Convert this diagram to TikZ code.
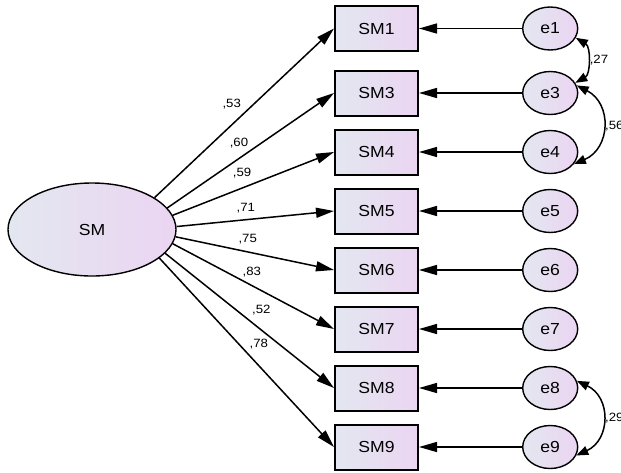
\documentclass[tikz,border=0pt]{standalone}
\usepackage{fontspec}
\setmainfont{Liberation Sans}[FakeStretch=1.1]
\usetikzlibrary{arrows.meta,positioning,shapes.geometric}
\definecolor{fillleft}{HTML}{E3E7F0}
\definecolor{fillright}{HTML}{EBD5F2}
\tikzstyle{latent}=[
	ellipse,
	draw,
	line width=1.4pt,
	left color=fillleft,
	right color=fillright,
	minimum width=168pt,
	minimum height=93pt,
	font=\fontsize{16}{18}\selectfont
]
\tikzstyle{indicator}=[
	rectangle,
	draw,
	line width=2pt,
	left color=fillleft,
	right color=fillright,
	minimum width=83pt,
	minimum height=45pt,
	font=\fontsize{16}{18}\selectfont,
	node distance=12pt and 103pt
]
\tikzstyle{error}=[
	ellipse,
	draw,
	line width=1.4pt,
	left color=fillleft,
	right color=fillright,
	minimum width=55pt,
	minimum height=43pt,
	inner sep=0pt,
	font=\fontsize{16}{18}\selectfont,
	node distance=12pt and 103pt
]
\tikzstyle{loading}=[
	-{Triangle[length=18pt,width=10pt]},
	line width=1.5pt
]
\tikzstyle{covariance}=[
	{Triangle[length=12pt,width=9pt]}-{Triangle[length=12pt,width=9pt]},
	line width=1.5pt
]
\tikzstyle{coef}=[
	font=\fontsize{12}{14}\selectfont,
	inner sep=1pt
]

\begin{document}
\begin{tikzpicture}[x=1pt,y=-1pt]
\useasboundingbox (0,0) rectangle (621,472);
\node [latent] (SM) at (92,229.5) {SM};
\node [indicator] (SM1) at (376.5,28.5) {SM1};
\node [indicator] (SM3) [below=17.5pt of SM1] {SM3};
\node [indicator] (SM4) [below=of SM3] {SM4};
\node [indicator] (SM5) [below=of SM4] {SM5};
\node [indicator] (SM6) [below=of SM5] {SM6};
\node [indicator] (SM7) [below=of SM6] {SM7};
\node [indicator] (SM8) [below=of SM7] {SM8};
\node [indicator] (SM9) [below=of SM8] {SM9};
\node [error] (e1) [right=of SM1] {e1} edge [loading] (SM1);
\node [error] (e3) [right=of SM3] {e3} edge [loading] (SM3);
\node [error] (e4) [right=of SM4] {e4} edge [loading] (SM4);
\node [error] (e5) [right=of SM5] {e5} edge [loading] (SM5);
\node [error] (e6) [right=of SM6] {e6} edge [loading] (SM6);
\node [error] (e7) [right=of SM7] {e7} edge [loading] (SM7);
\node [error] (e8) [right=of SM8] {e8} edge [loading] (SM8);
\node [error] (e9) [right=of SM9] {e9} edge [loading] (SM9);
% factor loadings
\draw [loading] (SM.27) -- node [coef, pos=0.43, above=14pt] {,53} (SM1.west);
\draw [loading] (SM.16.5) -- node [coef, pos=0.43, above=9pt] {,60} (SM3.west);
\draw [loading] (SM.10) -- node [coef, pos=0.43, above=8pt] {,59} (SM4.west);
\draw [loading] (SM.2.4) -- node [coef, pos=0.44, above=4.5pt] {,71} (SM5.west);
\draw [loading] (SM.-5) -- node [coef, pos=0.455, above=6pt] {,75} (SM6.west);
\draw [loading] (SM.-10.6) -- node [coef, pos=0.49, above=6.5pt] {,83} (SM7.west);
\draw [loading] (SM.-18.8) -- node [coef, pos=0.57, above=13pt] {,52} (SM8.west);
\draw [loading] (SM.-23.5) -- node [coef, pos=0.57, above=15pt] {,78} (SM9.west);
% error covariances
\draw [covariance] (e1.-20) to [bend left=60] node [coef, right=1pt] {,27} (e3.22);
\draw [covariance] (e3.16) to [bend left=65, looseness=1.3] node [coef, right=1pt] {,56} (e4.-27);
\draw [covariance] (e8.15) to [bend left=65, looseness=1.3] node [coef, right=1pt] {,29} (e9.-18);
\end{tikzpicture}
\end{document}
